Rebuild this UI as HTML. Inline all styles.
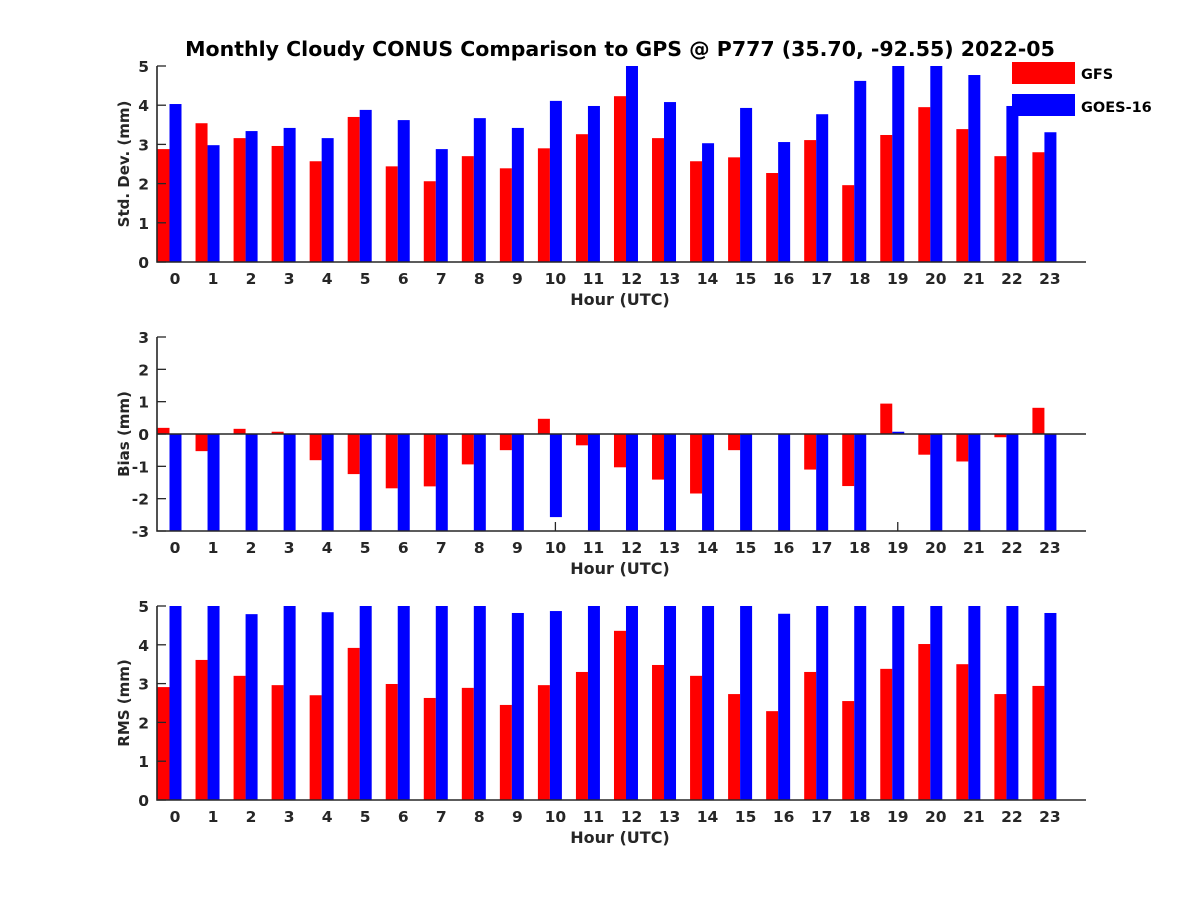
<!DOCTYPE html>
<html><head><meta charset="utf-8"><style>
body{margin:0;background:#fff}
svg text{font-family:"DejaVu Sans","Liberation Sans",sans-serif;font-weight:bold;fill:#262626}
</style></head><body>
<svg id="fig" width="1200" height="900" xmlns="http://www.w3.org/2000/svg">
<text x="620" y="56" text-anchor="middle" font-size="20.5" style="fill:#000">Monthly Cloudy CONUS Comparison to GPS @ P777 (35.70, -92.55) 2022-05</text>
</svg>
<script>
const hours=[0,1,2,3,4,5,6,7,8,9,10,11,12,13,14,15,16,17,18,19,20,21,22,23];
const stdGFS=[2.88,3.54,3.16,2.96,2.57,3.70,2.44,2.06,2.70,2.39,2.90,3.26,4.23,3.16,2.57,2.67,2.27,3.11,1.96,3.24,3.95,3.39,2.70,2.80];
const stdGOES=[4.03,2.98,3.34,3.42,3.16,3.88,3.62,2.88,3.67,3.42,4.11,3.98,5.2,4.08,3.03,3.93,3.06,3.77,4.62,5.2,5.2,4.77,3.98,3.31];
const biasGFS=[0.19,-0.53,0.16,0.07,-0.81,-1.24,-1.68,-1.62,-0.94,-0.50,0.47,-0.35,-1.03,-1.41,-1.84,-0.50,0,-1.10,-1.61,0.94,-0.64,-0.85,-0.10,0.81];
const biasGOES=[-3.5,-3.5,-3.5,-3.5,-3.5,-3.5,-3.5,-3.5,-3.5,-3.5,-2.57,-3.5,-3.5,-3.5,-3.5,-3.5,-3.5,-3.5,-3.5,0.07,-3.5,-3.5,-3.5,-3.5];
const rmsGFS=[2.91,3.61,3.20,2.96,2.70,3.92,2.99,2.63,2.89,2.45,2.96,3.30,4.36,3.48,3.20,2.73,2.29,3.30,2.55,3.38,4.02,3.50,2.73,2.94];
const rmsGOES=[5.3,5.3,4.79,5.3,4.84,5.3,5.3,5.3,5.3,4.82,4.87,5.3,5.3,5.3,5.3,5.3,4.80,5.3,5.3,5.3,5.3,5.3,5.3,4.82];
const stdTicks=[0,1,2,3,4,5];
const biasTicks=[-3,-2,-1,0,1,2,3];
const rmsTicks=[0,1,2,3,4,5];

const NS="http://www.w3.org/2000/svg";
const svg=document.getElementById('fig');
function el(tag,attrs,parent){const e=document.createElementNS(NS,tag);for(const k in attrs)e.setAttribute(k,attrs[k]);(parent||svg).appendChild(e);return e;}
const X0=157,X1=1086;
function xs(h){return 175+h*38.04;}
const BW=12;

function panel(name,top,bot,ymin,ymax,ticks,red,blue,ylabel,zeroLine){
  const g=el('g',{});
  
  
  const ys=v=>bot-(Math.max(ymin,Math.min(ymax,v))-ymin)/(ymax-ymin)*(bot-top);
  const base=zeroLine?ys(0):bot;
  hours.forEach(h=>{
    const t=el('line',{x1:xs(h),x2:xs(h),y1:bot,y2:bot-9,stroke:'#262626','stroke-width':1.3},g);
    
    
  });
  hours.forEach((h,i)=>{
    const yr=ys(red[i]);
    const r=el('rect',{x:xs(h)-BW*1.5+0.5,y:Math.min(yr,base),width:BW,height:Math.abs(base-yr),fill:'#ff0000'},g);
    
    
    const yb=ys(blue[i]);
    const b=el('rect',{x:xs(h)-BW/2+0.5,y:Math.min(yb,base),width:BW,height:Math.abs(base-yb),fill:'#0000ff'},g);
    
    
  });
  if(zeroLine){
    const z=el('line',{x1:X0,x2:X1,y1:base,y2:base,stroke:'#262626','stroke-width':1.6},g);
    
    
  }
  const ax=el('path',{d:`M${X0},${top} L${X0},${bot} L${X1},${bot}`,fill:'none',stroke:'#262626','stroke-width':1.6},g);
  
  
  ticks.forEach(v=>{
    const y=ys(v);
    const t=el('line',{x1:X0,x2:X0+9,y1:y,y2:y,stroke:'#262626','stroke-width':1.3},g);
    
    
    const l=el('text',{x:X0-8,y:y+6,'text-anchor':'end','font-size':15.5},g);
    l.textContent=v;
    
    
  });
  hours.forEach(h=>{
    const l=el('text',{x:xs(h),y:bot+22,'text-anchor':'middle','font-size':15.5},g);
    l.textContent=h;
    
    
  });
  const xl=el('text',{x:620,y:bot+43,'text-anchor':'middle','font-size':16},g);
  xl.textContent='Hour (UTC)';
  
  
  const cy=(top+bot)/2;
  const yl=el('text',{x:0,y:0,'text-anchor':'middle','font-size':15,transform:`translate(129,${cy}) rotate(-90)`},g);
  yl.textContent=ylabel;
  
  
}
panel('std-dev',66,262,0,5,stdTicks,stdGFS,stdGOES,'Std. Dev. (mm)',false);
panel('bias',337,531,-3,3,biasTicks,biasGFS,biasGOES,'Bias (mm)',true);
panel('rms',606,800,0,5,rmsTicks,rmsGFS,rmsGOES,'RMS (mm)',false);

const lg=el('g',{});


const r1=el('rect',{x:1012,y:62,width:63,height:22,fill:'#ff0000'},lg);


const r2=el('rect',{x:1012,y:94,width:63,height:22,fill:'#0000ff'},lg);


const t1=el('text',{x:1081,y:79,'font-size':14.5,style:'fill:#000'},lg);
t1.textContent='GFS';


const t2=el('text',{x:1081,y:112,'font-size':14.5,style:'fill:#000'},lg);
t2.textContent='GOES-16';


</script>
</body></html>
